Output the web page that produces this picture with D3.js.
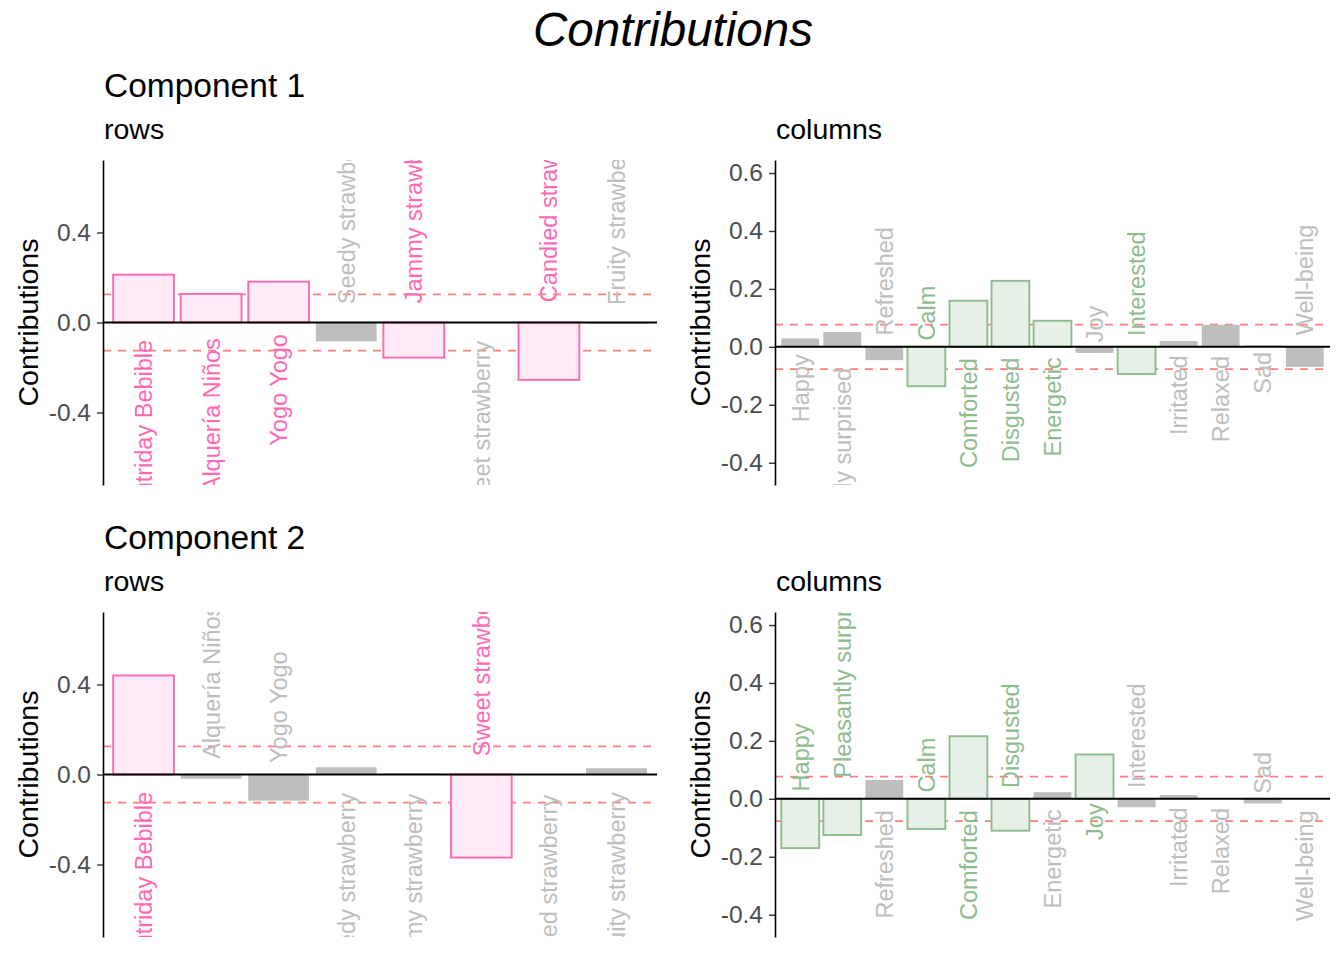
<!DOCTYPE html>
<html>
<head>
<meta charset="utf-8">
<script src="https://cdn.jsdelivr.net/npm/d3@7"></script>
<style>
  body { margin: 0; background: #fff; }
  text { font-family: "Liberation Sans", Arial, sans-serif; }
</style>
</head>
<body>
<script>
// categories
const rowNames = ["Nutriday Bebible", "Alquería Niños", "Yogo Yogo", "Seedy strawberry",
  "Jammy strawberry", "Sweet strawberry", "Candied strawberry", "Fruity strawberry"];
const colNames = ["Happy", "Pleasantly surprised", "Refreshed", "Calm", "Comforted", "Disgusted",
  "Energetic", "Joy", "Interested", "Irritated", "Relaxed", "Sad", "Well-being"];

// signed contributions
const rowsComp1 = [0.2125, 0.127, 0.1815, -0.084, -0.156, 0.001, -0.255, -0.006];
const rowsComp2 = [0.44, -0.019, -0.116, 0.032, 0.004, -0.369, 0.002, 0.028];
const colsComp1 = [0.029, 0.051, -0.046, -0.136, 0.159, 0.228, 0.090, -0.021, -0.094, 0.020, 0.076, 0.005, -0.069];
const colsComp2 = [-0.170, -0.125, 0.065, -0.104, 0.216, -0.110, 0.023, 0.153, -0.029, 0.013, 0.001, -0.016, 0.001];

// tick labels
const rowTicks = [-0.4, 0, 0.4];
const colTicks = [-0.4, -0.2, 0, 0.2, 0.4, 0.6];

const w = 1344;
const h = 960;

const svg = d3.select("body").append("svg")
  .attr("width", w)
  .attr("height", h);

// main title
svg.append("text")
  .attr("x", 673).attr("y", 46)
  .attr("text-anchor", "middle")
  .attr("font-size", 47.5)
  .attr("font-style", "italic")
  .text("Contributions");

const drawPanel = (opts) => {
  const { id, names, values, x0, x1, top, bottom, domain, ticks, color, fill } = opts;
  const threshold = 1 / names.length;

  const x = d3.scaleBand()
    .domain(names)
    .range([x0, x1])
    .paddingInner(0.1)
    .paddingOuter(0.15);

  const y = d3.scaleLinear()
    .domain(domain)
    .range([bottom, top]);

  svg.append("clipPath").attr("id", id)
    .append("rect")
    .attr("x", x0).attr("y", top)
    .attr("width", x1 - x0).attr("height", bottom - top);

  const g = svg.append("g");
  const clipped = g.append("g").attr("clip-path", `url(#${id})`);

  // threshold lines (average contribution)
  clipped.selectAll("line.thr")
    .data([threshold, -threshold])
    .enter().append("line")
    .attr("x1", x0).attr("x2", x1)
    .attr("y1", (d) => y(d)).attr("y2", (d) => y(d))
    .attr("stroke", "#FF7F7F")
    .attr("stroke-width", 1.7)
    .attr("stroke-dasharray", "8,7");

  const data = names.map((n, i) => ({ name: n, v: values[i], sig: Math.abs(values[i]) > threshold }));

  // bars
  clipped.selectAll("rect.bar")
    .data(data)
    .enter().append("rect")
    .attr("x", (d) => x(d.name))
    .attr("width", x.bandwidth())
    .attr("y", (d) => y(Math.max(0, d.v)))
    .attr("height", (d) => Math.abs(y(d.v) - y(0)))
    .attr("fill", (d) => (d.sig ? fill : "#BEBEBE"))
    .attr("stroke", (d) => (d.sig ? color : "none"))
    .attr("stroke-width", 1.9);

  // zero line
  g.append("line")
    .attr("x1", x0).attr("x2", x1)
    .attr("y1", y(0)).attr("y2", y(0))
    .attr("stroke", "black")
    .attr("stroke-width", 2);

  // bar labels, on the other side of the zero line
  clipped.selectAll("text.lab")
    .data(data)
    .enter().append("text")
    .attr("font-size", 23.5)
    .attr("fill", (d) => (d.sig ? color : "#BEBEBE"))
    .attr("dy", "0.36em")
    .attr("text-anchor", (d) => (d.v >= 0 ? "end" : "start"))
    .text((d) => d.name)
    .each(function (d) {
      const len = this.getComputedTextLength();
      const gap = 1 + 0.095 * len;
      const cx = x(d.name) + x.bandwidth() / 2;
      const cy = d.v >= 0 ? y(0) + gap : y(0) - gap;
      d3.select(this)
        .attr("x", 0).attr("y", 0)
        .attr("transform", `translate(${cx},${cy}) rotate(-90)`);
    });

  // y axis
  const axis = g.append("g")
    .attr("transform", `translate(${x0},0)`)
    .call(d3.axisLeft(y).tickValues(ticks).tickSize(6).tickSizeOuter(0).tickFormat((d) => d.toFixed(1)));
  axis.select(".domain").attr("stroke", "black").attr("stroke-width", 1.6);
  axis.selectAll(".tick line").attr("stroke", "#333333").attr("stroke-width", 1.4);
  axis.selectAll(".tick text")
    .attr("font-family", "Liberation Sans, Arial, sans-serif")
    .attr("font-size", 24.5)
    .attr("fill", "#4D4D4D")
    .attr("x", -12);

  // axis title
  g.append("text")
    .attr("transform", `translate(${x0 - 75},${(top + bottom) / 2}) rotate(-90)`)
    .attr("text-anchor", "middle")
    .attr("dy", "0.35em")
    .attr("font-size", 28.5)
    .text("Contributions");
};

const rowColor = "#FF69B4", rowFill = "#FFEAF5";
const colColor = "#8FBC8F", colFill = "#E6F0E6";
const rowDomain = [-0.722, 0.722];
const colDomain = [-0.477, 0.645];

const comps = [
  { label: "Component 1", rows: rowsComp1, cols: colsComp1, titleY: 97, subY: 139, top: 160, bottom: 485 },
  { label: "Component 2", rows: rowsComp2, cols: colsComp2, titleY: 549, subY: 591, top: 612, bottom: 937 }
];

comps.forEach((c, i) => {
  svg.append("text").attr("x", 104).attr("y", c.titleY).attr("font-size", 33.5).text(c.label);
  svg.append("text").attr("x", 104).attr("y", c.subY).attr("font-size", 28.5).text("rows");
  svg.append("text").attr("x", 776).attr("y", c.subY).attr("font-size", 28.5).text("columns");

  drawPanel({ id: `clipRows${i}`, names: rowNames, values: c.rows, x0: 103, x1: 657,
    top: c.top, bottom: c.bottom, domain: rowDomain, ticks: rowTicks, color: rowColor, fill: rowFill });
  drawPanel({ id: `clipCols${i}`, names: colNames, values: c.cols, x0: 775, x1: 1330,
    top: c.top, bottom: c.bottom, domain: colDomain, ticks: colTicks, color: colColor, fill: colFill });
});
</script>
</body>
</html>
